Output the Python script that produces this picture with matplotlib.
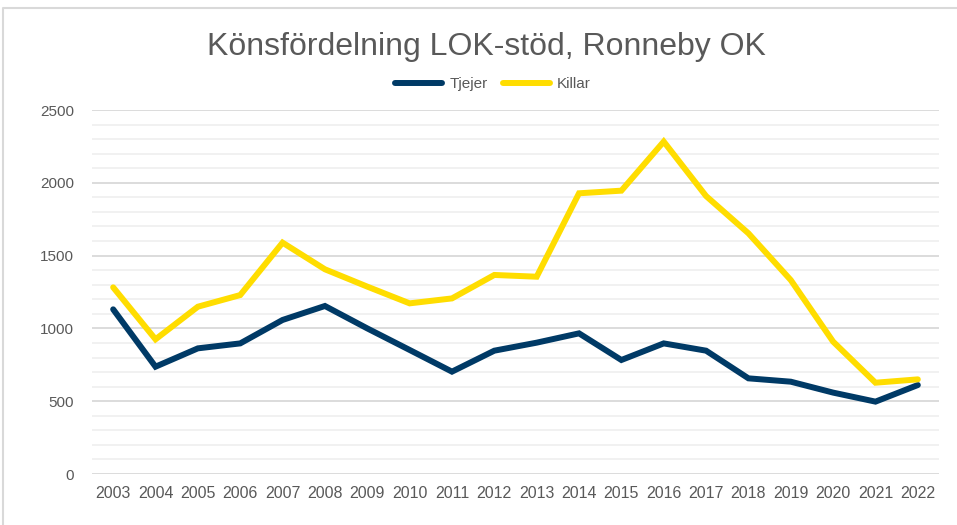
import numpy as np
import matplotlib.pyplot as plt
from matplotlib.lines import Line2D
from matplotlib.ticker import MultipleLocator

plt.rcParams['font.family'] = ['Liberation Sans', 'DejaVu Sans']

# Data
years = [str(y) for y in range(2003, 2023)]
tjejer = [1131, 737, 863, 897, 1058, 1154, 1000, 852, 703, 847,
          902, 966, 783, 897, 847, 657, 634, 559, 497, 611]
killar = [1282, 925, 1149, 1229, 1589, 1406, 1287, 1172, 1206, 1367,
          1355, 1928, 1946, 2283, 1909, 1653, 1332, 909, 627, 650]

blue = '#003A66'
yellow = '#FFDD00'
text_grey = '#595959'

fig = plt.figure(figsize=(9.57, 5.25), dpi=100)
ax = fig.add_axes([92/957, 1 - 474/525, (939 - 92)/957, (474 - 110)/525])

x = np.arange(len(years))
ax.plot(x, tjejer, color=blue, lw=4.3, solid_capstyle='round', solid_joinstyle='miter', label='Tjejer', zorder=3)
ax.plot(x, killar, color=yellow, lw=4.3, solid_capstyle='round', solid_joinstyle='miter', label='Killar', zorder=3)

ax.set_xlim(-0.5, len(years) - 0.5)
ax.set_ylim(0, 2500)
ax.set_xticks(x)
ax.set_xticklabels(years)
ax.yaxis.set_major_locator(MultipleLocator(500))
ax.yaxis.set_minor_locator(MultipleLocator(100))
ax.grid(which='major', axis='y', color='#D9D9D9', lw=1.3, zorder=1)
ax.grid(which='minor', axis='y', color='#F0F0F0', lw=1.3, zorder=0)
for s in ax.spines.values():
    s.set_visible(False)
ax.tick_params(which='both', length=0)
ax.tick_params(axis='x', labelsize=11.5, colors=text_grey, pad=9)
ax.tick_params(axis='y', labelsize=11, colors=text_grey, pad=13)

fig.text(486/957, 1 - 47/525, 'Könsfördelning LOK-stöd, Ronneby OK',
         ha='center', va='center', fontsize=23, color=text_grey)

leg = fig.legend(loc='center', bbox_to_anchor=(493/957, 1 - 84/525), ncol=2,
                 frameon=False, fontsize=11, handlelength=3.1, columnspacing=1.0,
                 handletextpad=0.45)
for t in leg.get_texts():
    t.set_color(text_grey)

# chart-area border (only top and left edges visible in the crop)
fig.add_artist(Line2D([3/957, 3/957, 1], [0, 1 - 8/525, 1 - 8/525],
                      transform=fig.transFigure, color='#D9D9D9', lw=1.5))

fig.savefig('out.png', dpi=100)
